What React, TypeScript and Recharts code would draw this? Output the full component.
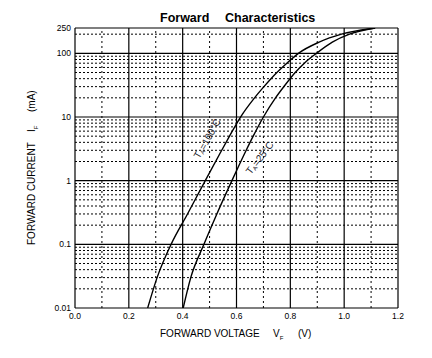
import { LineChart, Line, XAxis, YAxis, ReferenceLine, ReferenceDot } from 'recharts';

// forward voltage (V) vs forward current (mA)
const curve100 = [
  { v: 0.27, i: 0.01 },
  { v: 0.305, i: 0.03 },
  { v: 0.357, i: 0.1 },
  { v: 0.418, i: 0.3 },
  { v: 0.484, i: 1 },
  { v: 0.545, i: 3 },
  { v: 0.574, i: 5 },
  { v: 0.615, i: 10 },
  { v: 0.667, i: 20 },
  { v: 0.702, i: 30 },
  { v: 0.75, i: 50 },
  { v: 0.787, i: 70 },
  { v: 0.83, i: 100 },
  { v: 0.907, i: 150 },
  { v: 0.99, i: 200 },
  { v: 1.115, i: 250 },
];

const curve25 = [
  { v: 0.402, i: 0.01 },
  { v: 0.43, i: 0.03 },
  { v: 0.479, i: 0.1 },
  { v: 0.527, i: 0.3 },
  { v: 0.583, i: 1 },
  { v: 0.636, i: 3 },
  { v: 0.662, i: 5 },
  { v: 0.7, i: 10 },
  { v: 0.745, i: 20 },
  { v: 0.776, i: 30 },
  { v: 0.818, i: 50 },
  { v: 0.852, i: 70 },
  { v: 0.897, i: 100 },
  { v: 0.956, i: 150 },
  { v: 1.02, i: 200 },
  { v: 1.115, i: 250 },
];

const xTicks = [0, 0.2, 0.4, 0.6, 0.8, 1.0, 1.2];
const xMinor = [0.1, 0.3, 0.5, 0.7, 0.9, 1.1];
const yTicks = [0.01, 0.1, 1, 10, 100, 250];
const yMajor = [0.1, 1, 10, 100];
const decades = [0.01, 0.1, 1, 10];
const minorMult = [2, 3, 4, 5, 6, 7, 8, 9];
const yMinor = [
  ...decades.flatMap((d) => minorMult.map((m) => +(d * m).toPrecision(3))),
  200,
];

const font = 'Liberation Sans, Arial, sans-serif';

function CurveLabel({ viewBox, name, angle }) {
  const cx = viewBox.x + viewBox.width / 2;
  const cy = viewBox.y + viewBox.height / 2;
  return (
    <text
      transform={`translate(${cx},${cy}) rotate(${angle})`}
      textAnchor='middle'
      dominantBaseline='central'
      fontSize={10}
      fontFamily={font}
      fill='#1c1c2c'
    >
      T<tspan fontSize={6} dy={3}>A</tspan>
      <tspan dy={-3}>{name}</tspan>
    </text>
  );
}

export default function App() {
  return (
    <div style={{ position: 'absolute', left: 0, top: 0, width: 432, height: 358, background: '#fff' }}>
      <LineChart
        width={432}
        height={358}
        margin={{ top: 28, right: 34, bottom: 20, left: 30 }}
      >
        <XAxis
          type='number'
          dataKey='v'
          domain={[0, 1.2]}
          ticks={xTicks}
          tickFormatter={(t) => t.toFixed(1)}
          axisLine={false}
          tickLine={false}
          tickSize={0}
          tickMargin={5}
          height={30}
          tick={{ fontSize: 8.5, fill: '#000', fontFamily: font }}
        />
        <YAxis
          type='number'
          scale='log'
          domain={[0.01, 250]}
          allowDataOverflow
          ticks={yTicks}
          axisLine={false}
          tickLine={false}
          tickSize={0}
          tickMargin={4}
          width={45}
          tick={{ fontSize: 8.5, fill: '#000', fontFamily: font }}
        />
        {yMinor.map((y) => (
          <ReferenceLine key={'ym' + y} y={y} stroke='#000' strokeDasharray='2 2' />
        ))}
        {xMinor.map((x) => (
          <ReferenceLine key={'xm' + x} x={x} stroke='#000' strokeDasharray='2 3' />
        ))}
        {yMajor.map((y) => (
          <ReferenceLine key={'yM' + y} y={y} stroke='#000' strokeWidth={1.2} />
        ))}
        {xTicks.map((x) => (
          <ReferenceLine key={'xM' + x} x={x} stroke='#000' strokeWidth={1.2} />
        ))}
        <ReferenceLine y={0.01} stroke='#000' strokeWidth={1.2} />
        <ReferenceLine y={250} stroke='#000' strokeWidth={1.2} />
        <Line
          data={curve100}
          dataKey='i'
          type='monotone'
          stroke='#000'
          strokeWidth={1.4}
          dot={false}
          isAnimationActive={false}
        />
        <Line
          data={curve25}
          dataKey='i'
          type='monotone'
          stroke='#000'
          strokeWidth={1.4}
          dot={false}
          isAnimationActive={false}
        />
        <ReferenceDot
          x={0.49}
          y={4.6}
          r={1}
          fill='none'
          stroke='none'
          label={(p) => <CurveLabel viewBox={p.viewBox} name='=100°C' angle={-61} />}
        />
        <ReferenceDot
          x={0.685}
          y={2.3}
          r={1}
          fill='none'
          stroke='none'
          label={(p) => <CurveLabel viewBox={p.viewBox} name='=25°C' angle={-53} />}
        />
      </LineChart>
      <svg
        width={432}
        height={358}
        style={{ position: 'absolute', left: 0, top: 0, pointerEvents: 'none' }}
        fontFamily={font}
      >
        <text x={160} y={21.7} fontSize={12.5} fontWeight='bold' fill='#000'>Forward</text>
        <text x={225} y={21.7} fontSize={12.5} fontWeight='bold' fill='#000'>Characteristics</text>
        <text x={160} y={336.5} fontSize={10} fill='#000'>FORWARD VOLTAGE</text>
        <text x={273} y={336.5} fontSize={10} fill='#000'>
          V<tspan fontSize={6} dy={3}>F</tspan>
        </text>
        <text x={298} y={336.5} fontSize={10} fill='#000'>(V)</text>
        <g transform='translate(35,245) rotate(-90)' fill='#000' fontSize={10}>
          <text x={0} y={0}>FORWARD CURRENT</text>
          <text x={113} y={0}>
            I<tspan fontSize={6} dy={3}>F</tspan>
          </text>
          <text x={133} y={0}>(mA)</text>
        </g>
      </svg>
    </div>
  );
}
